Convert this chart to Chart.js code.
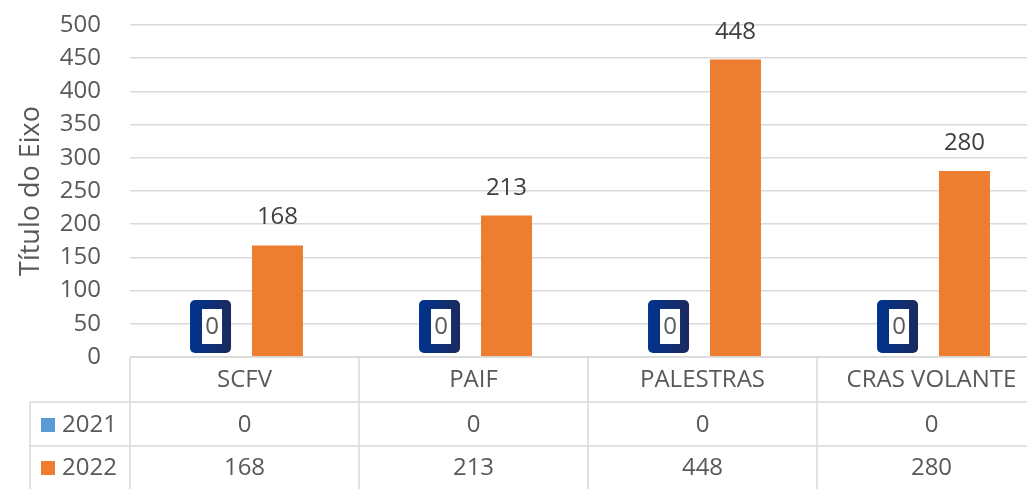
<!DOCTYPE html>
<html>
<head>
<meta charset="utf-8">
<script src="https://cdn.jsdelivr.net/npm/chart.js@4"></script>
<style>
html,body{margin:0;padding:0;background:#fff;overflow:hidden;}
#wrap{position:relative;width:1046px;height:489px;}
</style>
</head>
<body>
<div id="wrap"><canvas id="c"></canvas></div>
<script>
const categories = ['SCFV', 'PAIF', 'PALESTRAS', 'CRAS VOLANTE'];
const seriesNames = ['2021', '2022'];
const values2021 = [0, 0, 0, 0];
const values2022 = [168, 213, 448, 280];
const yMin = 0, yMax = 500, yStep = 50;
const axisTitle = 'Título do Eixo';

const FONT = '"Open Sans", sans-serif';
const TXT = '#595959';
const GRID = '#d9d9d9';
const colors = ['#5B9BD5', '#ED7D31'];

const tablePlugin = {
  id: 'tablePlugin',
  afterDraw(chart) {
    const ctx = chart.ctx;
    const xs = chart.scales.x;
    const ca = chart.chartArea;
    const n = categories.length;
    const cw = (ca.right - ca.left) / n;
    const H = chart.height;
    const row1 = 402, row2 = 446;
    ctx.save();
    ctx.strokeStyle = GRID;
    ctx.lineWidth = 1.5;
    ctx.beginPath();
    ctx.moveTo(ca.left, ca.bottom); ctx.lineTo(ca.right, ca.bottom);
    ctx.moveTo(30, row1); ctx.lineTo(ca.right, row1);
    ctx.moveTo(30, row2); ctx.lineTo(ca.right, row2);
    ctx.moveTo(30, row1); ctx.lineTo(30, H);
    for (let i = 0; i <= n; i++) {
      const x = ca.left + i * cw;
      ctx.moveTo(x, ca.bottom); ctx.lineTo(x, H);
    }
    ctx.stroke();

    ctx.fillStyle = TXT;
    ctx.font = '24px ' + FONT;
    ctx.textAlign = 'center';
    ctx.textBaseline = 'middle';
    const rows = [values2021, values2022];
    for (let i = 0; i < n; i++) {
      const x = xs.getPixelForValue(i);
      ctx.fillText(categories[i], x, 380);
      ctx.fillText(String(rows[0][i]), x, 425);
      ctx.fillText(String(rows[1][i]), x, 468);
    }
    const ky = [425, 468];
    for (let s = 0; s < 2; s++) {
      ctx.fillStyle = colors[s];
      ctx.fillRect(41, ky[s] - 7, 14, 14);
      ctx.fillStyle = TXT;
      ctx.textAlign = 'left';
      ctx.fillText(seriesNames[s], 62, ky[s]);
    }
    ctx.save();
    ctx.translate(31, 191);
    ctx.rotate(-Math.PI / 2);
    ctx.textAlign = 'center';
    ctx.textBaseline = 'middle';
    ctx.font = '27px ' + FONT;
    ctx.fillText(axisTitle, 0, 0);
    ctx.restore();

    const m0 = chart.getDatasetMeta(0);
    const m1 = chart.getDatasetMeta(1);
    ctx.font = '24px ' + FONT;
    ctx.textAlign = 'center';
    ctx.textBaseline = 'alphabetic';
    ctx.fillStyle = '#404040';
    m1.data.forEach((b, i) => {
      ctx.fillText(String(values2022[i]), b.x, b.y - 21);
    });
    m0.data.forEach((b, i) => {
      const bx = b.x, base = b.base;
      const w = 41, h = 53;
      const x0 = bx - w / 2 - 1, y0 = base - 4 - h;
      const g = ctx.createLinearGradient(x0, 0, x0 + w, 0);
      g.addColorStop(0, '#00338F');
      g.addColorStop(1, '#1B2A5E');
      ctx.fillStyle = g;
      ctx.beginPath();
      ctx.roundRect(x0, y0, w, h, 5);
      ctx.fill();
      ctx.fillStyle = '#fff';
      ctx.fillRect(x0 + 12, y0 + 9, 20, 35);
      ctx.fillStyle = TXT;
      ctx.textBaseline = 'middle';
      ctx.fillText(String(values2021[i]), x0 + 22, y0 + 27);
      ctx.textBaseline = 'alphabetic';
    });
    ctx.restore();
  }
};

new Chart(document.getElementById('c'), {
  type: 'bar',
  data: {
    labels: categories,
    datasets: [
      { label: seriesNames[0], data: values2021, backgroundColor: colors[0] },
      { label: seriesNames[1], data: values2022, backgroundColor: colors[1] }
    ]
  },
  options: {
    responsive: true,
    maintainAspectRatio: false,
    animation: false,
    events: [],
    layout: { padding: { top: 25, bottom: 132, left: 0, right: 0 } },
    categoryPercentage: 0.576,
    barPercentage: 0.773,
    plugins: { legend: { display: false }, tooltip: { enabled: false } },
    scales: {
      x: { display: false },
      y: {
        min: yMin, max: yMax,
        ticks: { stepSize: yStep, color: TXT, font: { family: FONT, size: 24 }, padding: 0 },
        grid: { color: GRID, lineWidth: 1.5, drawTicks: true, tickLength: 29, tickColor: 'rgba(0,0,0,0)' },
        border: { display: false },
        afterFit(scale) { scale.width = 130; }
      }
    }
  },
  plugins: [tablePlugin]
});
</script>
</body>
</html>
